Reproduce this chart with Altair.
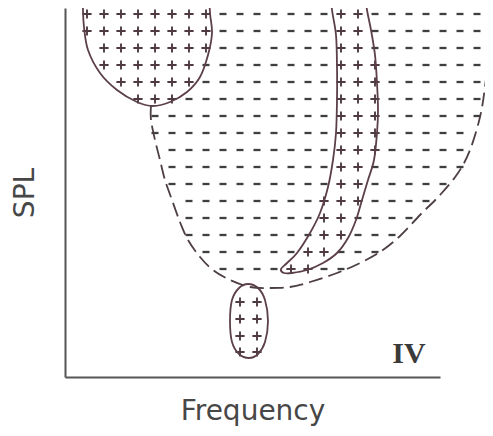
import altair as alt
import pandas as pd

# ---- schematic (page pixels, converted to chart units below)
X0, Y0 = 65, 377          # page position of the axis origin

BOWL_PX = [(83, -12), (83, 10), (84, 27), (88, 50), (100, 73), (117, 90), (137, 102),
           (153, 106), (170, 102), (187, 92), (200, 77), (208, 55), (212, 33), (210, 13), (209, -12)]

DASHED_PX = [(151, 106), (151, 120), (155, 140), (160, 160), (165, 180), (172, 200), (180, 222),
             (188, 240), (200, 257), (213, 270), (230, 280), (250, 287), (270, 288), (290, 287),
             (310, 282), (337, 273), (360, 263), (380, 252), (400, 236), (420, 215), (440, 195),
             (458, 173), (470, 150), (480, 117), (485, 87), (488, 57), (490, 30), (490, -12)]

BAND_PX = [(330, -12), (332, 10), (336, 35), (337, 67), (337, 100), (336, 133), (333, 160),
           (328, 187), (320, 213), (310, 233), (297, 253), (287, 263), (281, 269), (284, 273),
           (292, 273), (307, 270), (323, 263), (337, 253), (348, 238), (356, 220), (362, 200),
           (368, 180), (374, 160), (377, 133), (378, 110), (377, 83), (375, 55), (371, 30),
           (367, 10), (364, -12)]

ELLIPSE_PX = [(248, 284), (258, 288), (265, 300), (268, 321), (265, 342), (258, 354), (249, 358),
              (239, 354), (232, 342), (230, 321), (232, 300), (239, 288)]

GRID_COLS_PX = [87, 104, 121, 138, 155, 172, 189, 206, 223, 240, 257, 274, 291, 308, 324, 341,
                358, 375, 392, 409, 426, 443, 460, 477]
GRID_ROWS_PX = [14, 31, 48, 65, 82, 99, 116, 133, 150, 167, 184, 201, 218, 235, 252, 269]
LOW_ROWS_PX = [302, 319, 336, 352]

IV_LABEL = "IV"
IV_POS_PX = (409, 363)


def to_units(pts):
    return [(px - X0, Y0 - py) for px, py in pts]


def inside(pt, poly):
    x, y = pt
    res = False
    n = len(poly)
    for i in range(n):
        x1, y1 = poly[i]
        x2, y2 = poly[(i + 1) % n]
        if (y1 > y) != (y2 > y):
            xc = x1 + (y - y1) * (x2 - x1) / (y2 - y1)
            if x < xc:
                res = not res
    return res


bowl_right = [p for p in BOWL_PX[7:]][::-1]  # from top-right down to bowl bottom
dash_region = DASHED_PX + bowl_right[:-1]

plus_pts, dash_pts = [], []
for ry in GRID_ROWS_PX:
    for cx in GRID_COLS_PX:
        p = (cx, ry)
        if inside(p, BOWL_PX) or inside(p, BAND_PX):
            plus_pts.append(p)
        elif inside(p, dash_region):
            dash_pts.append(p)
for ry in LOW_ROWS_PX:
    for cx in GRID_COLS_PX:
        if inside((cx, ry), ELLIPSE_PX):
            plus_pts.append((cx, ry))


def line_df(pts, name):
    u = to_units(pts)
    return pd.DataFrame({"f": [a for a, _ in u], "s": [b for _, b in u],
                         "o": list(range(len(u))), "shape": name})


W, H = 375, 369
xs = alt.Scale(domain=[0, W], nice=False, zero=False)
ys = alt.Scale(domain=[0, H], nice=False, zero=False)

X = alt.X("f:Q", scale=xs, title="Frequency",
          axis=alt.Axis(labels=False, ticks=False, grid=False, domainColor="#555555",
                        domainWidth=2, titleFont="DejaVu Sans", titleFontSize=28,
                        titleFontWeight="normal", titleColor="#474747", titlePadding=20))
Y = alt.Y("s:Q", scale=ys, title="SPL",
          axis=alt.Axis(labels=False, ticks=False, grid=False, domainColor="#555555",
                        domainWidth=2, titleFont="DejaVu Sans", titleFontSize=28,
                        titleFontWeight="normal", titleColor="#474747", titlePadding=26))

OUT = "#5c4047"

dash_df = pd.DataFrame(to_units(dash_pts), columns=["f", "s"])
plus_df = pd.DataFrame(to_units(plus_pts), columns=["f", "s"])

dashes = alt.Chart(dash_df).mark_point(shape="M-1,0H1", filled=False, size=49,
                                       strokeWidth=2.3, color="#3f3f3f", opacity=1).encode(x=X, y=Y)
pluses = alt.Chart(plus_df).mark_point(shape="M-1,0H1M0,-1V1", filled=False, size=85,
                                       strokeWidth=1.9, color="#4f3a42", opacity=1).encode(
    x=alt.X("f:Q", scale=xs), y=alt.Y("s:Q", scale=ys))


def outline(df, interp, dash=None):
    kw = dict(interpolate=interp, color=OUT, strokeWidth=1.8)
    if dash:
        kw["strokeDash"] = dash
        kw["color"] = "#4d3f44"
    return alt.Chart(df).mark_line(**kw).encode(
        x=alt.X("f:Q", scale=xs), y=alt.Y("s:Q", scale=ys), order="o:Q")


bowl = outline(line_df(BOWL_PX, "bowl"), "cardinal")
band = outline(line_df(BAND_PX, "band"), "cardinal")
ell = outline(line_df(ELLIPSE_PX, "ellipse"), "cardinal-closed")
dashed = outline(line_df(DASHED_PX, "dashed"), "cardinal", dash=[14, 6])

iv_u = to_units([IV_POS_PX])[0]
iv = alt.Chart(pd.DataFrame({"f": [iv_u[0]], "s": [iv_u[1]], "t": [IV_LABEL]})).mark_text(
    font="Liberation Serif", fontSize=30, fontWeight="bold", color="#3a3a3a",
    align="center", baseline="alphabetic").encode(
    x=alt.X("f:Q", scale=xs), y=alt.Y("s:Q", scale=ys), text="t:N")

chart = alt.layer(dashes, pluses, bowl, band, ell, dashed, iv).properties(
    width=W, height=H,
    autosize=alt.AutoSizeParams(type="none"),
    padding={"left": 57, "top": 0, "right": 45, "bottom": 51},
    background="white",
).configure_view(stroke=None)

chart.save("out.html", embed_options={"renderer": "svg", "actions": False})
